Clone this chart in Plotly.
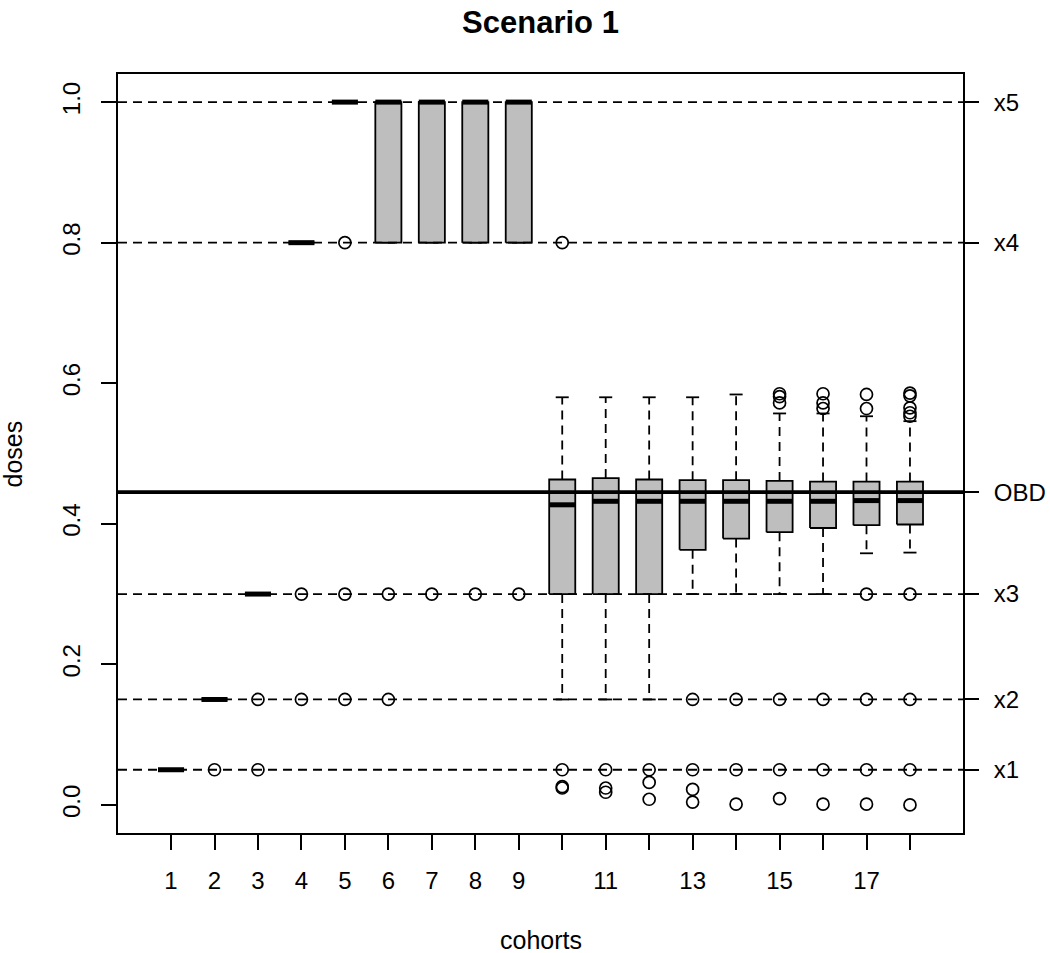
import plotly.graph_objects as go

# ---------------- data ----------------
cohorts = list(range(1, 19))
x_tick_labels = ["1", "2", "3", "4", "5", "6", "7", "8", "9", "", "11", "", "13", "", "15", "", "17", ""]

q1 = [0.05, 0.15, 0.30, 0.80, 1.00, 0.80, 0.80, 0.80, 0.80,
      0.30, 0.30, 0.30, 0.363, 0.379, 0.388, 0.394, 0.398, 0.399]
median = [0.05, 0.15, 0.30, 0.80, 1.00, 1.00, 1.00, 1.00, 1.00,
          0.427, 0.432, 0.432, 0.432, 0.432, 0.432, 0.432, 0.433, 0.433]
q3 = [0.05, 0.15, 0.30, 0.80, 1.00, 1.00, 1.00, 1.00, 1.00,
      0.463, 0.465, 0.463, 0.462, 0.462, 0.461, 0.460, 0.460, 0.460]
whisker_low = [0.05, 0.15, 0.30, 0.80, 1.00, 0.80, 0.80, 0.80, 0.80,
               0.15, 0.15, 0.15, 0.30, 0.30, 0.30, 0.30, 0.358, 0.359]
whisker_high = [0.05, 0.15, 0.30, 0.80, 1.00, 1.00, 1.00, 1.00, 1.00,
                0.580, 0.580, 0.580, 0.580, 0.584, 0.557, 0.557, 0.553, 0.546]

outliers = [
    [],
    [0.05],
    [0.15, 0.05],
    [0.30, 0.15],
    [0.80, 0.30, 0.15],
    [0.30, 0.15],
    [0.30],
    [0.30],
    [0.30],
    [0.80, 0.05, 0.026, 0.024],
    [0.05, 0.024, 0.018],
    [0.05, 0.032, 0.008],
    [0.15, 0.05, 0.022, 0.004],
    [0.15, 0.05, 0.001],
    [0.585, 0.581, 0.572, 0.15, 0.05, 0.009],
    [0.585, 0.572, 0.564, 0.15, 0.05, 0.001],
    [0.584, 0.564, 0.30, 0.15, 0.05, 0.001],
    [0.586, 0.582, 0.565, 0.558, 0.553, 0.30, 0.15, 0.05, 0.0],
]

dose_levels = [0.05, 0.15, 0.30, 0.80, 1.00]
dose_labels = ["x1", "x2", "x3", "x4", "x5"]
obd_value = 0.445
obd_label = "OBD"

y_ticks = [0.0, 0.2, 0.4, 0.6, 0.8, 1.0]
y_tick_labels = ["0.0", "0.2", "0.4", "0.6", "0.8", "1.0"]

# ---------------- styling ----------------
FONT = "Liberation Sans, Arial, Helvetica, sans-serif"
BOX_HALF = 0.3
STAPLE_HALF = 0.15
LW = 1.8
DASH = "9px,6px"
X_RANGE = [-0.22, 19.22]
Y_RANGE = [-0.04, 1.04]
FIG_W, FIG_H = 1050, 953
ML, MR, MT, MB = 118, 87, 74, 120
PLOT_W = FIG_W - ML - MR
PLOT_H = FIG_H - MT - MB

# ---------------- build geometry from data ----------------
wx, wy = [], []
sx, sy = [], []
bx, by = [], []
mx, my = [], []
ox, oy = [], []
for i, c in enumerate(cohorts):
    wx += [c, c, None, c, c, None]
    wy += [q3[i], whisker_high[i], None, q1[i], whisker_low[i], None]
    sx += [c - STAPLE_HALF, c + STAPLE_HALF, None, c - STAPLE_HALF, c + STAPLE_HALF, None]
    sy += [whisker_high[i], whisker_high[i], None, whisker_low[i], whisker_low[i], None]
    bx += [c - BOX_HALF, c + BOX_HALF, c + BOX_HALF, c - BOX_HALF, c - BOX_HALF, None]
    by += [q1[i], q1[i], q3[i], q3[i], q1[i], None]
    mx += [c - BOX_HALF, c + BOX_HALF, None]
    my += [median[i], median[i], None]
    for v in outliers[i]:
        ox.append(c)
        oy.append(v)

fig = go.Figure()
fig.add_trace(go.Scatter(x=wx, y=wy, mode="lines", line=dict(color="black", width=LW, dash=DASH),
                         hoverinfo="skip", showlegend=False))
fig.add_trace(go.Scatter(x=sx, y=sy, mode="lines", line=dict(color="black", width=LW),
                         hoverinfo="skip", showlegend=False))
fig.add_trace(go.Scatter(x=bx, y=by, mode="lines", fill="toself", fillcolor="#bebebe",
                         line=dict(color="black", width=LW), hoverinfo="skip", showlegend=False))
fig.add_trace(go.Scatter(x=mx, y=my, mode="lines", line=dict(color="black", width=5),
                         hoverinfo="skip", showlegend=False))
fig.add_trace(go.Scatter(x=ox, y=oy, mode="markers",
                         marker=dict(symbol="circle-open", size=12, color="black", line=dict(width=1.7)),
                         hoverinfo="skip", showlegend=False))

rx, ry = [], []
for v in dose_levels:
    rx += [X_RANGE[0], X_RANGE[1], None]
    ry += [v, v, None]
fig.add_trace(go.Scatter(x=rx, y=ry, mode="lines", yaxis="y2",
                         line=dict(color="black", width=LW, dash=DASH),
                         hoverinfo="skip", showlegend=False))
fig.add_trace(go.Scatter(x=X_RANGE, y=[obd_value, obd_value], mode="lines", yaxis="y2",
                         line=dict(color="black", width=3.6),
                         hoverinfo="skip", showlegend=False))

right_vals = dose_levels + [obd_value]
right_text = dose_labels + [obd_label]

LABEL_SIZE = 24
axis_common = dict(showgrid=False, zeroline=False, ticks="outside", ticklen=15, tickwidth=1.6,
                   tickcolor="black", automargin=False,
                   tickfont=dict(family=FONT, size=LABEL_SIZE, color="black"))

fig.update_layout(
    width=FIG_W, height=FIG_H,
    margin=dict(l=ML, r=MR, t=MT, b=MB, autoexpand=False),
    paper_bgcolor="white", plot_bgcolor="white",
    font=dict(family=FONT, color="black"),
    title=dict(text="<b>Scenario 1</b>", x=0.5, xref="paper", xanchor="center",
               y=1 - 22 / FIG_H, yref="container", yanchor="middle",
               font=dict(family=FONT, size=31, color="black")),
    xaxis=dict(range=X_RANGE, tickmode="array", tickvals=cohorts, ticktext=x_tick_labels,
               showline=True, linecolor="black", linewidth=LW, mirror=True,
               ticklabelstandoff=10, **axis_common),
    yaxis=dict(range=Y_RANGE, tickmode="array", tickvals=y_ticks, ticktext=y_tick_labels,
               tickangle=-90, showline=True, linecolor="black", linewidth=LW, mirror=True,
               ticklabelstandoff=12, **axis_common),
    yaxis2=dict(range=Y_RANGE, overlaying="y", side="right", tickmode="array",
                tickvals=right_vals, ticktext=right_text, showline=False,
                ticklabelstandoff=10, **axis_common),
    annotations=[
        dict(text="doses", textangle=-90, xref="paper", yref="paper",
             x=(12 - ML) / PLOT_W, y=0.5, xanchor="center", yanchor="middle", showarrow=False,
             font=dict(family=FONT, size=25, color="black")),
        dict(text="cohorts", xref="paper", yref="paper",
             x=0.5, y=-(940 - (MT + PLOT_H)) / PLOT_H, xanchor="center", yanchor="middle",
             showarrow=False, font=dict(family=FONT, size=25, color="black")),
    ],
)

fig.write_html("out.html", config={"displayModeBar": False},
               post_script="document.body.style.margin='0';")
